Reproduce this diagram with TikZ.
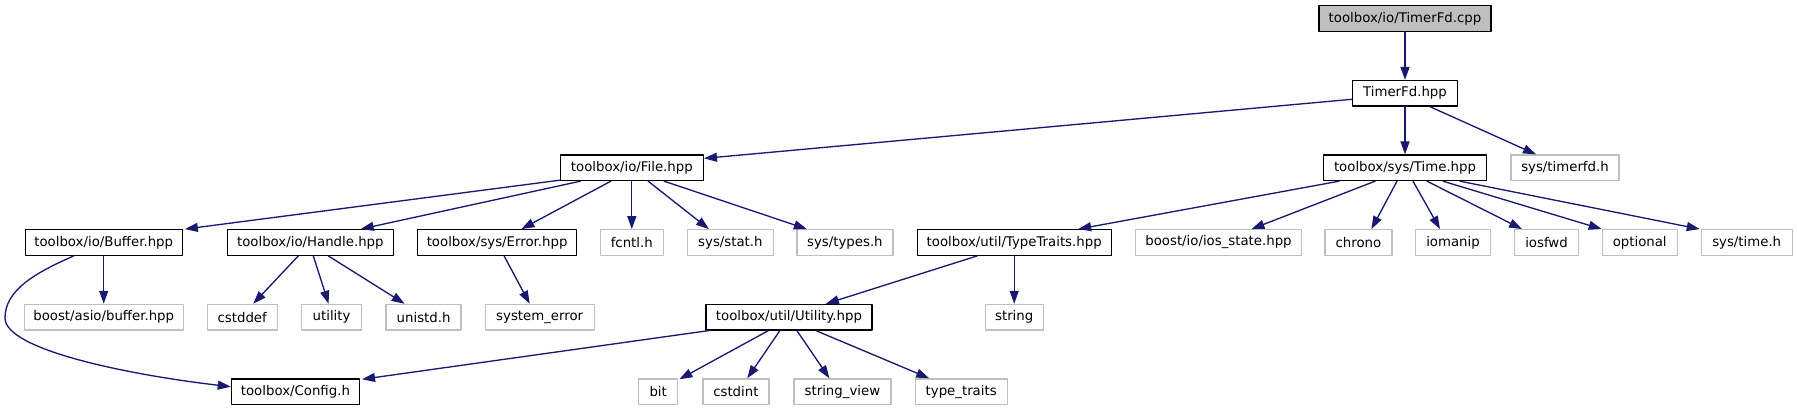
\documentclass[tikz,border=0pt]{standalone}
\usepackage{fontspec}
\setmainfont{DejaVu Sans}
\usetikzlibrary{arrows.meta,calc}
\begin{document}
\begin{tikzpicture}[yscale=-1, x=1pt, y=1pt, line join=round, line cap=round,
  box/.style={draw, line width=1.33pt, minimum height=25.5pt, inner sep=0pt, font=\fontsize{13.3}{15}\selectfont},
  hdr/.style={box, draw=layer0},
  src/.style={box, draw=layer0, fill=layer2},
  ext/.style={box, draw=layer2},
  inc/.style={draw=layer1, line width=1.33pt, -{Triangle[length=13pt,width=9pt]}}]
% Layer color definitions
\definecolor{layer0}{rgb}{0,0,0}
\definecolor{layer1}{rgb}{0.1,0.1,0.44}
\definecolor{layer2}{rgb}{0.75,0.75,0.75}
% End of color definitions
\useasboundingbox (0,0) rectangle (1797,411);
% Row 0 and 1
\node[src, minimum width=172] (cpp) at (1405,18.5) {toolbox/io/TimerFd.cpp};
\node[hdr, minimum width=105] (tfh) at (1405,93.3) {TimerFd.hpp};
% Row 2
\node[hdr, minimum width=143] (file) at (631.8,167.8) {toolbox/io/File.hpp};
\node[hdr, minimum width=163] (time) at (1405,167.8) {toolbox/sys/Time.hpp};
\node[ext, minimum width=108] (timerfd) at (1565,167.8) {sys/timerfd.h};
% Row 3
\node[hdr, minimum width=157] (buffer) at (103.7,242.5) {toolbox/io/Buffer.hpp};
\node[hdr, minimum width=166] (handle) at (310.3,242.5) {toolbox/io/Handle.hpp};
\node[hdr, minimum width=159] (error) at (497.1,242.5) {toolbox/sys/Error.hpp};
\node[ext, minimum width=63] (fcntl) at (631.8,242.5) {fcntl.h};
\node[ext, minimum width=86] (stat) at (730.4,242.5) {sys/stat.h};
\node[ext, minimum width=96] (types) at (844.9,242.5) {sys/types.h};
\node[hdr, minimum width=194] (traits) at (1014.2,242.5) {toolbox/util/TypeTraits.hpp};
\node[ext, minimum width=166] (iostate) at (1218.5,242.5) {boost/io/ios\_state.hpp};
\node[ext, minimum width=67] (chrono) at (1358.4,242.5) {chrono};
\node[ext, minimum width=75] (iomanip) at (1453,242.5) {iomanip};
\node[ext, minimum width=64] (iosfwd) at (1546.5,242.5) {iosfwd};
\node[ext, minimum width=75] (optional) at (1639.7,242.5) {optional};
\node[ext, minimum width=91] (systime) at (1746.7,242.5) {sys/time.h};
% Row 4
\node[ext, minimum width=159] (asio) at (103.7,317.2) {boost/asio/buffer.hpp};
\node[ext, minimum width=70] (cstddef) at (242.2,317.2) {cstddef};
\node[ext, minimum width=60] (utility) at (331.6,317.2) {utility};
\node[ext, minimum width=75] (unistd) at (423.6,317.2) {unistd.h};
\node[ext, minimum width=109] (syserr) at (539.7,317.2) {system\_error};
\node[hdr, minimum width=166] (util) at (788.9,317.2) {toolbox/util/Utility.hpp};
\node[ext, minimum width=58] (string) at (1014.2,317.2) {string};
% Row 5
\node[hdr, minimum width=128] (config) at (295.4,391.7) {toolbox/Config.h};
\node[ext, minimum width=39] (bit) at (658.2,391.7) {bit};
\node[ext, minimum width=66] (cstdint) at (735.9,391.7) {cstdint};
\node[ext, minimum width=97] (sview) at (842.4,391.7) {string\_view};
\node[ext, minimum width=92] (ttraits) at (961.2,391.7) {type\_traits};
% Includes
\draw[inc] (cpp.south) -- (tfh.north);
\draw[inc] ($(tfh.west)+(0,6)$) -- ($(file.north east)+(0,4)$);
\draw[inc] (tfh.south) -- (time.north);
\draw[inc] ($(tfh.south)+(25,0)$) -- ($(timerfd.north)+(-29,0)$);
\draw[inc] ($(file.south west)+(0,-1)$) -- ($(buffer.north east)+(2,0)$);
\draw[inc] ($(file.south)+(-51.5,0)$) -- ($(handle.north)+(50.4,0)$);
\draw[inc] ($(file.south)+(-21,0)$) -- ($(error.north)+(24.3,0)$);
\draw[inc] (file.south) -- (fcntl.north);
\draw[inc] ($(file.south)+(16.4,0)$) -- ($(stat.north)+(-21.5,0)$);
\draw[inc] ($(file.south)+(32.4,0)$) -- ($(types.north)+(-38,0)$);
\draw[inc] ($(time.south)+(-66,0)$) -- ($(traits.north)+(64,0)$);
\draw[inc] ($(time.south)+(-30,0)$) -- ($(iostate.north)+(33,0)$);
\draw[inc] ($(time.south)+(-8,0)$) -- ($(chrono.north)+(13,0)$);
\draw[inc] ($(time.south)+(8,0)$) -- ($(iomanip.north)+(-13,0)$);
\draw[inc] ($(time.south)+(22,0)$) -- ($(iosfwd.north)+(-24.5,0)$);
\draw[inc] ($(time.south)+(38,0)$) -- ($(optional.north)+(-38,0)$);
\draw[inc] ($(time.south)+(55,0)$) -- ($(systime.north)+(-47,0)$);
\draw[inc] (buffer.south) -- (asio.north);
\draw[inc] ($(buffer.south)+(-30,0)$) .. controls (35,273) and (5,290) .. (5,318)
  .. controls (5,350) and (130,375) .. ($(config.west)+(0,-5)$);
\draw[inc] ($(handle.south)+(-12,0)$) -- ($(cstddef.north)+(11,0)$);
\draw[inc] ($(handle.south)+(3,0)$) -- ($(utility.north)+(-3,0)$);
\draw[inc] ($(handle.south)+(18,0)$) -- ($(unistd.north)+(-19,0)$);
\draw[inc] ($(error.south)+(7,0)$) -- ($(syserr.north)+(-10,0)$);
\draw[inc] ($(traits.south)+(-37,0)$) -- ($(util.north)+(37,0)$);
\draw[inc] (traits.south) -- (string.north);
\draw[inc] ($(util.south west)+(3.4,0)$) -- ($(config.north east)+(2,1)$);
\draw[inc] ($(util.south)+(-20.5,0)$) -- ($(bit.north east)+(1,1)$);
\draw[inc] ($(util.south)+(-9,0)$) -- ($(cstdint.north)+(11.4,0)$);
\draw[inc] ($(util.south)+(8,0)$) -- ($(sview.north)+(-13,0)$);
\draw[inc] ($(util.south)+(27,0)$) -- ($(ttraits.north)+(-32,0)$);
\end{tikzpicture}
\end{document}
